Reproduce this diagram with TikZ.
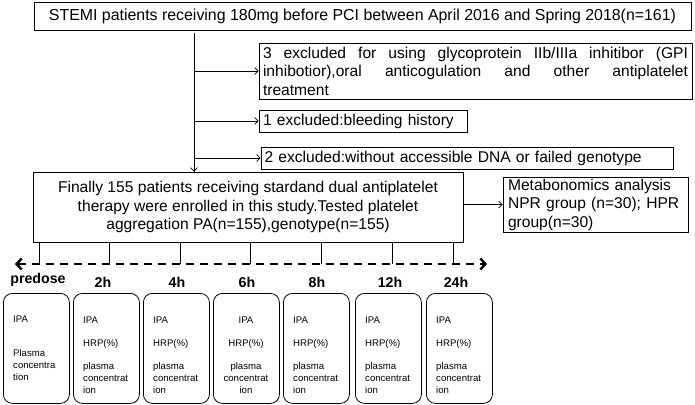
\documentclass[tikz,border=0pt]{standalone}
\usepackage{fontspec}
\setmainfont{Liberation Sans}
\usetikzlibrary{arrows.meta}
\tikzset{
  box/.style={draw=black, line width=0.8pt, rectangle, inner sep=0pt, font=\fontsize{15.6}{18.5}\selectfont},
  conn/.style={draw=black, line width=0.7pt, -{Straight Barb[length=3.5pt,width=7pt]}},
  plain/.style={draw=black, line width=0.8pt},
  axis/.style={draw=black, line width=2.4pt, dash pattern=on 8pt off 6pt, {Straight Barb[length=5pt,width=11pt,line width=2.4pt]}-{Straight Barb[length=5pt,width=11pt,line width=2.4pt]}},
  tbox/.style={draw=black, line width=0.8pt, rounded corners=9pt, rectangle, minimum width=66pt, minimum height=110pt, inner sep=0pt, anchor=north west},
  tlabel/.style={font=\fontsize{14.2}{16}\bfseries\selectfont, anchor=base},
  small/.style={font=\fontsize{9.6}{11.8}\selectfont, inner sep=0pt, align=left, anchor=west},
  smallc/.style={font=\fontsize{9.6}{11.8}\selectfont, inner sep=0pt, align=center},
}
\begin{document}
\begin{tikzpicture}[x=1pt,y=-1pt]
\useasboundingbox (0,0) rectangle (695,404);
% top box
\node[box, minimum width=657pt, minimum height=28pt, font=\fontsize{15.9}{19}\selectfont] (top) at (362.5,16)
  {STEMI patients receiving 180mg before PCI between April 2016 and Spring 2018(n=161)};
% exclusion boxes
\node[box, minimum width=433pt, minimum height=56pt, text width=425pt, align=justify] (ex3) at (475.5,71)
  {3 excluded for using glycoprotein IIb/IIIa inhitibor (GPI\linebreak inhibotior),oral anticogulation and other antiplatelet\linebreak treatment};
\node[box, minimum width=208pt, minimum height=22pt, text width=200pt, align=left] (ex1) at (363,121)
  {1 excluded:bleeding history};
\node[box, minimum width=412pt, minimum height=22pt, text width=405pt, align=left] (ex2) at (467,158)
  {2 excluded:without accessible DNA or failed genotype};
% final box
\node[box, minimum width=430pt, minimum height=70pt, align=center] (final) at (248,207)
  {Finally 155 patients receiving stardand dual antiplatelet\\therapy were enrolled in this study.Tested platelet\\aggregation PA(n=155),genotype(n=155)};
% metabonomics
\node[box, minimum width=185pt, minimum height=55pt, text width=175pt, align=left] (meta) at (595.5,204.5)
  {Metabonomics analysis\\NPR group (n=30); HPR\\group(n=30)};
% stem and arrows
\coordinate (stem) at (194,33);
\draw[plain] (stem) -- (stem |- final.north);
\draw[conn] (stem |- final.north) ++(0,-8) -- (stem |- final.north);
\draw[conn] (stem |- ex3.west) -- (ex3.west);
\draw[conn] (stem |- ex1.west) -- (ex1.west);
\draw[conn] (stem |- ex2.west) -- (ex2.west);
\draw[conn] (meta.west -| final.east) -- (meta.west);
% timeline axis
\coordinate (axL) at (15,264);
\coordinate (axR) at (487,264);
\draw[axis] (axL) -- (axR);
\foreach \i/\x in {1/39,2/109,3/180,4/250,5/321,6/392,7/453}{
  \coordinate (tk\i) at (\x,264);
  \draw[plain] (tk\i |- final.south) -- (tk\i);
}
% time labels
\node[tlabel] (l1) at (38,283) {predose};
\foreach \i/\x/\t in {2/103/2h,3/177/4h,4/247/6h,5/317/8h,6/390/12h,7/456/24h}{
  \node[tlabel] (l\i) at (\x,287) {\t};
}
% time boxes
\node[tbox] (b1) at (3,293) {};
\node[small] (b1a) at (13,319) {IPA};
\node[small] (b1b) at (13,365) {Plasma\\concentra\\tion};
\foreach \i/\x in {2/73,3/143,5/283,6/355,7/426}{
  \node[tbox] (b\i) at (\x,293) {};
  \node[small] (b\i a) at (\x+10,320) {IPA};
  \node[small] (b\i b) at (\x+10,344) {HRP(\%)};
  \node[small] (b\i c) at (\x+10,378) {plasma\\concentrat\\ion};
}
\node[tbox] (b4) at (213,293) {};
\node[smallc] (b4a) at (246,320) {IPA};
\node[smallc] (b4b) at (246,344) {HRP(\%)};
\node[smallc] (b4c) at (246,378) {plasma\\concentrat\\ion};
\end{tikzpicture}
\end{document}
